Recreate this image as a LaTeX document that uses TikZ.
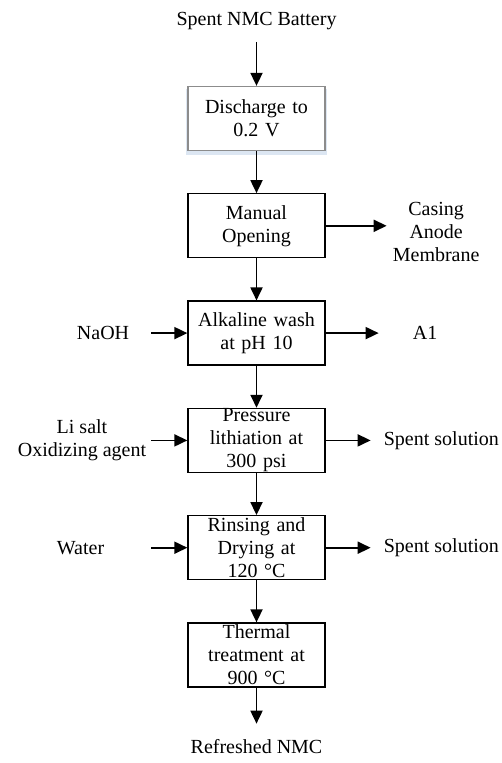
\documentclass[tikz,border=0pt]{standalone}
\usepackage{fontspec}
\setmainfont{Liberation Serif}
\usetikzlibrary{positioning,arrows.meta,shadows}
\definecolor{rim}{HTML}{8C8C8C}
\definecolor{glow}{HTML}{DCE6F2}

\begin{document}
\begin{tikzpicture}[x=1pt, y=-1pt, node distance=42pt,
      every node/.style={font=\fontsize{20}{23}\selectfont, inner sep=0pt},
      stage/.style={draw, line width=1.3pt, fill=white, minimum width=137pt, minimum height=64pt, text width=130pt, align=center},
      flow/.style={line width=1.8pt, -{Triangle[width=12pt,length=13pt]}}]
    \useasboundingbox (0,0) rectangle (501,763);
    % main column
    \node[stage, draw=rim, general shadow={fill=glow, shadow xshift=0pt, shadow yshift=-3pt, shadow scale=1.03}] (dis) at (256.5,118.5) {Discharge to\\0.2 V};
    \node[stage, below=of dis] (man) {Manual\\Opening};
    \node[stage, below=of man] (alk) {Alkaline wash\\at pH 10};
    \node[stage, below=of alk] (pre) {Pressure\\lithiation at\\300 psi};
    \node[stage, below=of pre] (rin) {Rinsing and\\Drying at\\120 °C};
    \node[stage, below=of rin] (thr) {Thermal\\treatment at\\900 °C};
    \node[above=56pt of dis] (src) {Spent NMC Battery};
    \coordinate[below=36pt of thr] (o6);
    \node[below=16pt of o6] (ref) {Refreshed NMC};
    \draw[flow, shorten <=12pt] (src) -- (dis);
    \draw[flow] (dis) -- (man);
    \draw[flow] (man) -- (alk);
    \draw[flow] (alk) -- (pre);
    \draw[flow] (pre) -- (rin);
    \draw[flow] (rin) -- (thr);
    \draw[flow] (thr) -- (o6);
    % outputs
    \coordinate (o2) at ([xshift=61pt]man.east);
    \node[right=6pt of o2, yshift=-6pt, align=center] (cas) {Casing\\Anode\\Membrane};
    \coordinate (o3) at ([xshift=53pt]alk.east);
    \node[right=34pt of o3] (al) {A1};
    \coordinate (o4) at ([xshift=45pt]pre.east);
    \node[right=13pt of o4] (sp4) {Spent solution};
    \coordinate (o5) at ([xshift=45pt]rin.east);
    \node[right=13pt of o5] (sp5) {Spent solution};
    \draw[flow] (man) -- (o2);
    \draw[flow] (alk) -- (o3);
    \draw[flow] (pre) -- (o4);
    \draw[flow] (rin) -- (o5);
    % inputs
    \coordinate (i3) at ([xshift=-36pt]alk.west);
    \node[left=22pt of i3] (naoh) {NaOH};
    \coordinate (i4) at ([xshift=-36pt]pre.west);
    \node[left=5pt of i4, align=center] (li) {Li salt\\Oxidizing agent};
    \coordinate (i5) at ([xshift=-36pt]rin.west);
    \node[left=47pt of i5] (wat) {Water};
    \draw[flow] (i3) -- (alk);
    \draw[flow] (i4) -- (pre);
    \draw[flow] (i5) -- (rin);
  \end{tikzpicture}
\end{document}
